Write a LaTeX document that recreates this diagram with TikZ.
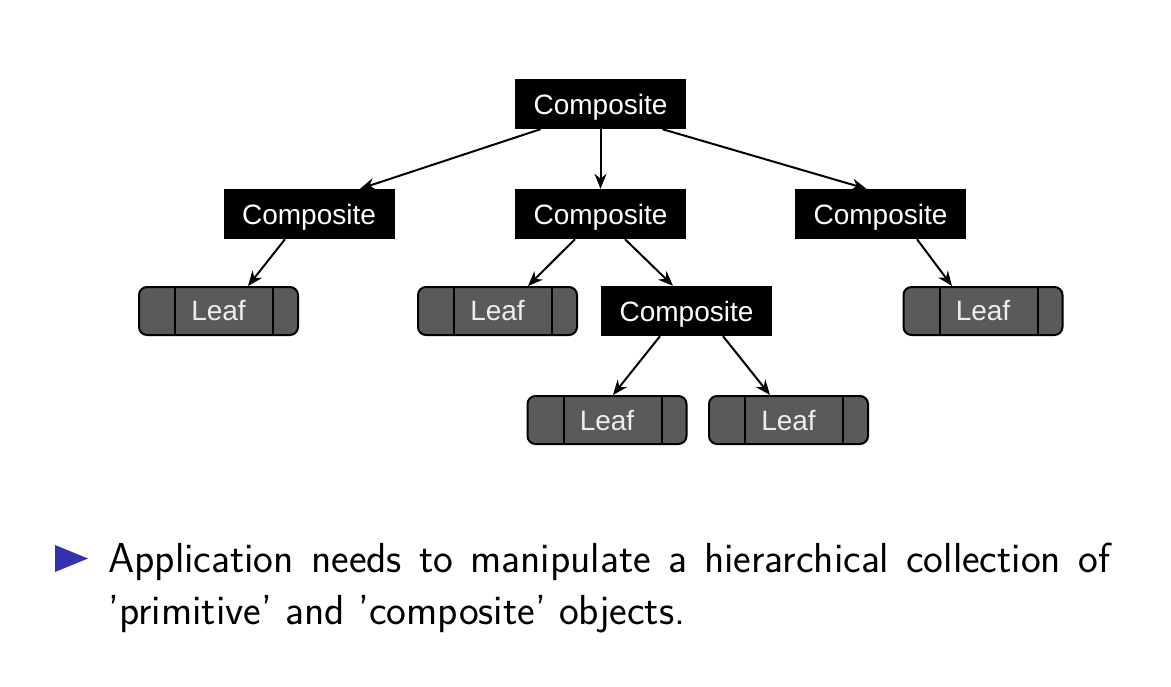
\documentclass[tikz,border=0pt]{standalone}
\usepackage{fontspec}
\usepackage{tikz}
\usetikzlibrary{arrows.meta,calc}
\newfontfamily\arialfont{Liberation Sans}
\definecolor{leafgray}{HTML}{5A5A5A}
\definecolor{bulletblue}{rgb}{0.2,0.2,0.7}
\tikzset{
  comp/.style={fill=black,text=white,inner sep=0,minimum width=171,minimum height=50,text height=20pt,text depth=0pt,font=\arialfont\fontsize{28}{32}\selectfont},
  leaf/.style={draw=black,line width=2pt,fill=leafgray,text=white!93!black,rounded corners=8pt,inner sep=0,minimum width=159,minimum height=48,font=\arialfont\fontsize{28}{32}\selectfont,
    path picture={
      \draw[line width=2pt] ([xshift=36pt]path picture bounding box.north west) -- ([xshift=36pt]path picture bounding box.south west);
      \draw[line width=2pt] ([xshift=-25pt]path picture bounding box.north east) -- ([xshift=-25pt]path picture bounding box.south east);
    }},
  link/.style={-{Stealth[length=15pt,width=12pt]},line width=2pt}
}

\begin{document}
\begin{tikzpicture}[x=1pt,y=-1pt]

\useasboundingbox (0,0) rectangle (1171,686);

% Nodes
\node[comp] (root) at (600.5,104) {Composite};
\node[comp] (c1) at (309,214) {Composite};
\node[comp] (c2) at (600.5,214) {Composite};
\node[comp] (c3) at (880.5,214) {Composite};
\node[leaf] (l1) at (218.5,311) {Leaf};
\node[leaf] (l2) at (497.5,311) {Leaf};
\node[comp] (c4) at (686.5,311) {Composite};
\node[leaf] (l3) at (983,311) {Leaf};
\node[leaf] (l4) at (607,420) {Leaf};
\node[leaf] (l5) at (788.5,420) {Leaf};

% The tree
\draw[link] ([xshift=-60]root.south) -- ([xshift=51]c1.north);
\draw[link] (root.south) -- (c2.north);
\draw[link] ([xshift=62]root.south) -- ([xshift=-14]c3.north);
\draw[link] ([xshift=-24]c1.south) -- ([xshift=29.5]l1.north);
\draw[link] ([xshift=-25.5]c2.south) -- ([xshift=30.5]l2.north);
\draw[link] ([xshift=24.5]c2.south) -- ([xshift=-13.5]c4.north);
\draw[link] ([xshift=36.5]c3.south) -- ([xshift=-31]l3.north);
\draw[link] ([xshift=-26.5]c4.south) -- ([xshift=6]l4.north);
\draw[link] ([xshift=36.5]c4.south) -- ([xshift=-18.5]l5.north);

% The bullet
\fill[bulletblue] (55,545) -- (88,558.5) -- (55,572) -- cycle;
\node[anchor=north west,inner sep=0,text width=1002pt,align=justify,font=\sffamily\fontsize{42}{52}\selectfont] (point) at (108,543)
  {Application needs to manipulate a hierarchical collection of 'primitive' and 'composite' objects.};

\end{tikzpicture}
\end{document}
